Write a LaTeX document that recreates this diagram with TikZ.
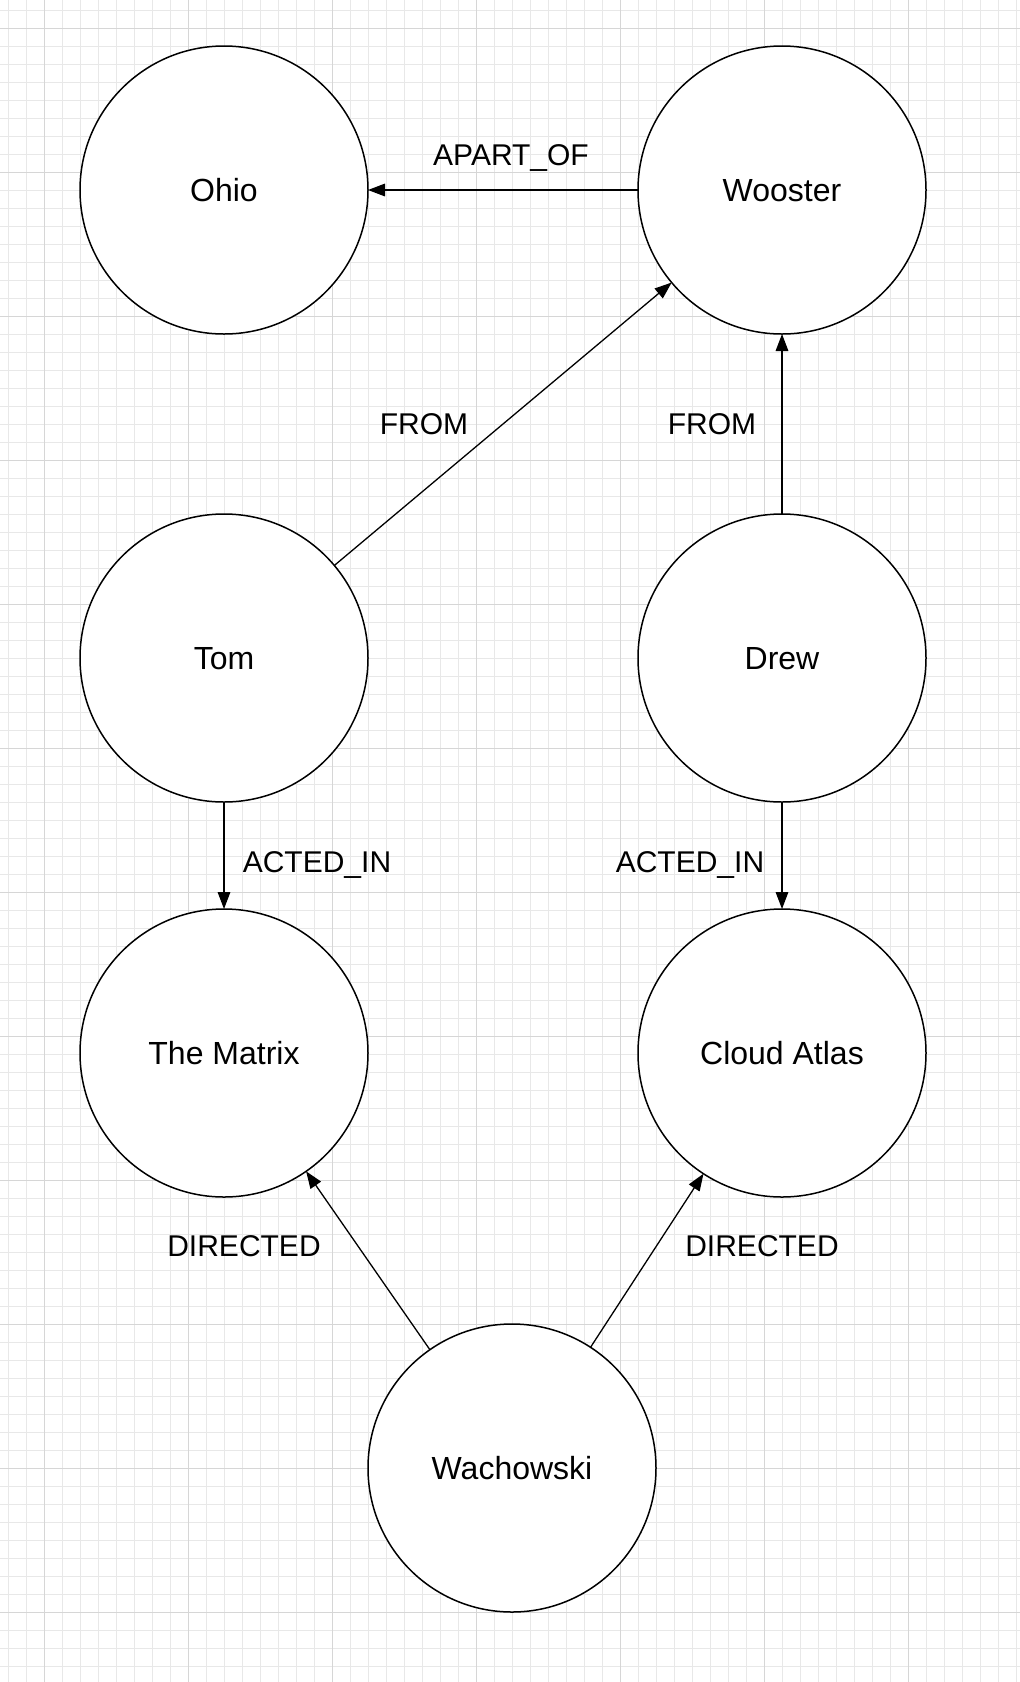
\documentclass[tikz,border=0pt]{standalone}
\usepackage{fontspec}
\setmainfont{Liberation Sans}
\usetikzlibrary{arrows.meta}
\definecolor{gridminor}{HTML}{E8E8E8}
\definecolor{gridmajor}{HTML}{D6D6D6}
\begin{document}
\begin{tikzpicture}[x=0.5pt,y=-0.5pt,
  entity/.style={circle, draw=black, fill=white, line width=0.75pt, minimum size=144pt,
    inner sep=0pt, outer sep=0pt, font=\fontsize{16}{19}\selectfont, text height=11.5pt, text depth=0pt},
  rel/.style={-{Triangle[length=8.5pt,width=6.3pt]}, line width=0.65pt, draw=black},
  rellabel/.style={inner sep=0pt, font=\fontsize{15}{18}\selectfont, text height=10.75pt, text depth=0pt},
  minorgrid/.style={draw=gridminor, line width=0.5pt},
  majorgrid/.style={draw=gridmajor, line width=0.5pt}]
\useasboundingbox (0,0) rectangle (1020,1682);
\fill[white] (0,0) rectangle (1020,1682);
% grid
\foreach \i in {0,...,56} \draw[minorgrid] ({8.3+18*\i},0) -- ({8.3+18*\i},1682);
\foreach \j in {0,...,92} \draw[minorgrid] (0,{10.3+18*\j}) -- (1020,{10.3+18*\j});
\foreach \i in {0,...,6} \draw[majorgrid] ({44.3+144*\i},0) -- ({44.3+144*\i},1682);
\foreach \j in {0,...,11} \draw[majorgrid] (0,{28.3+144*\j}) -- (1020,{28.3+144*\j});
% nodes
\node[entity] (ohio) at (224,190) {Ohio};
\node[entity] (wooster) at (782,190) {Wooster};
\node[entity] (tom) at (224,658) {Tom};
\node[entity] (drew) at (782,658) {Drew};
\node[entity] (matrix) at (224,1053) {The Matrix};
\node[entity] (cloud) at (782,1053) {Cloud Atlas};
\node[entity] (wach) at (512,1468) {Wachowski};
% connectors
\draw[rel] (wooster) -- (ohio);
\draw[rel] (tom) -- (wooster);
\draw[rel] (drew) -- (wooster);
\draw[rel] (tom) -- (matrix);
\draw[rel] (drew) -- (cloud);
\draw[rel] (wach) -- (matrix);
\draw[rel] (wach) -- (cloud);
% labels
\node[rellabel] (lapart) at (511,154.5) {APART\_OF};
\node[rellabel] (lfrom1) at (424,424) {FROM};
\node[rellabel] (lfrom2) at (712,424) {FROM};
\node[rellabel] (lacted1) at (317,862) {ACTED\_IN};
\node[rellabel] (lacted2) at (690,862) {ACTED\_IN};
\node[rellabel] (ldir1) at (244,1246) {DIRECTED};
\node[rellabel] (ldir2) at (762,1246) {DIRECTED};
\end{tikzpicture}
\end{document}
